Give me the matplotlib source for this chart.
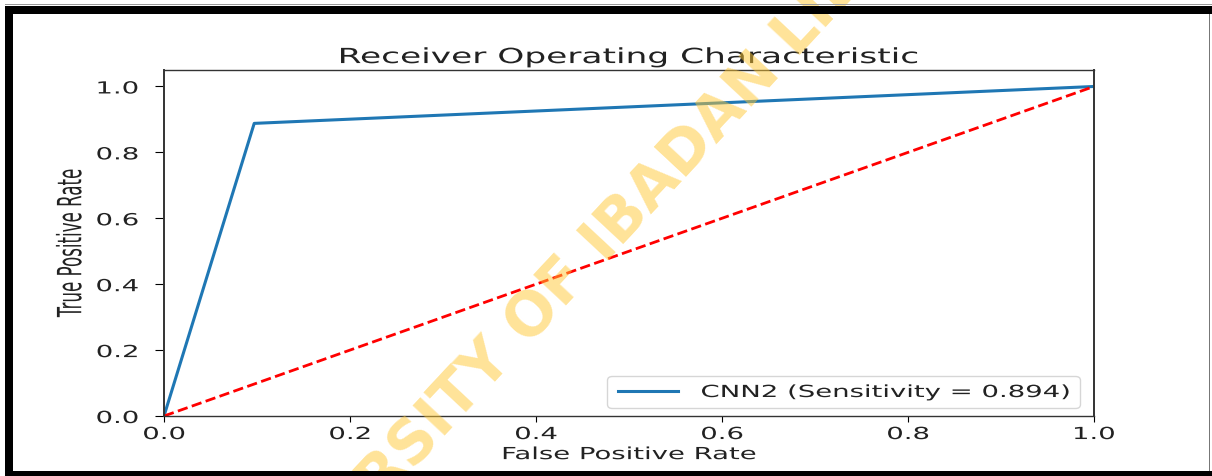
import numpy as np
import matplotlib
matplotlib.use('Agg')
import matplotlib.pyplot as plt
from matplotlib.patches import Rectangle
from matplotlib.path import Path
from matplotlib.patheffects import AbstractPathEffect
from matplotlib.transforms import Affine2D

# ── data ───────────────────────────────────────────────────────────────
FPR = [0.0, 0.097, 1.0]
TPR = [0.0, 0.888, 1.0]
CHANCE = [0.0, 1.0]
ROC_LABEL = 'CNN2 (Sensitivity = 0.894)'
TICKS = [0.0, 0.2, 0.4, 0.6, 0.8, 1.0]
WATERMARK = 'UNIVERSITY OF IBADAN LIBRARY'

W, H, DPI = 1212, 477, 100
SX = 1.65      # the source screenshot was widened, so glyphs are drawn wider


class Widen(AbstractPathEffect):
    """Stretch a drawn path along screen x about an anchor (text stays text)."""
    def __init__(self, sx, where='center', x0=None):
        super().__init__()
        self.sx, self.where, self.x0 = sx, where, x0

    def draw_path(self, renderer, gc, tpath, affine, rgbFace=None):
        if self.x0 is not None:
            cx = self.x0.x1
        else:
            v = tpath.vertices
            if tpath.codes is not None:
                v = v[tpath.codes != Path.CLOSEPOLY]
            xmin, xmax = v[:, 0].min(), v[:, 0].max()
            lx = {'left': xmin, 'center': (xmin + xmax) / 2, 'right': xmax}[self.where]
            ly = (v[:, 1].min() + v[:, 1].max()) / 2
            cx = affine.transform_point((lx, ly))[0]
        stretch = Affine2D().translate(-cx, 0).scale(self.sx, 1).translate(cx, 0)
        renderer.draw_path(gc, tpath, affine + stretch, rgbFace)


plt.rcParams['font.size'] = 12

fig = plt.figure(figsize=(W / DPI, H / DPI), dpi=DPI)
ax = fig.add_axes([164 / W, 1 - 417 / H, 930 / W, 346 / H])

ax.plot(FPR, TPR, color='#1f77b4', lw=2.2, label=ROC_LABEL)
ax.plot(CHANCE, CHANCE, color='red', ls='--', lw=2)

ax.set_xlim(0, 1)
ax.set_ylim(0, 1.05)
ax.set_xticks(TICKS)
ax.set_yticks(TICKS)
ax.tick_params(axis='x', length=4, pad=2.5)
ax.tick_params(axis='y', length=6.5, pad=12)
for side in ['left', 'right']:
    ax.spines[side].set_linewidth(1.4)
for side in ['top', 'bottom']:
    ax.spines[side].set_linewidth(1.0)
for side in ax.spines:
    ax.spines[side].set_color('#333333')

plt.setp(ax.get_xticklabels(), path_effects=[Widen(SX, 'center')], color='#222222')
plt.setp(ax.get_yticklabels(), path_effects=[Widen(SX, 'right')], color='#222222')

ax.set_title('Receiver Operating Characteristic', fontsize=15, pad=5, color='#222222',
             path_effects=[Widen(SX, 'center')])
ax.set_xlabel('False Positive Rate', labelpad=1.5, color='#222222',
              path_effects=[Widen(SX, 'center')])
ax.set_ylabel('True Positive Rate', color='#222222', path_effects=[Widen(2.0, 'center')])
ax.yaxis.set_label_coords(-0.0914, 0.5)

leg = ax.legend(loc='lower right', handlelength=2.2)
wide = [Widen(SX, x0=ax.bbox)]
leg.get_frame().set_path_effects(wide)
for t in leg.get_texts():
    t.set_path_effects(wide)
    t.set_color('#222222')
for ln in leg.get_lines():
    ln.set_path_effects(wide)

# library watermark across the page (cut by the page edges, as in the scan)
fig.text(603 / W, 1 - 242 / H, WATERMARK, rotation=47, rotation_mode='anchor',
         ha='center', va='center', fontsize=43, fontweight='bold',
         color=(1.0, 0.78, 0.2), alpha=0.5, zorder=5)

# screenshot frame
def band(x0, y0, x1, y1, color):
    fig.add_artist(Rectangle((x0 / W, 1 - y1 / H), (x1 - x0) / W, (y1 - y0) / H,
                             transform=fig.transFigure, color=color, lw=0, zorder=10))

band(5, 5, W, 6, '#999999')
band(5, 7, W, 15, 'black')
band(5, 7, 13, H, 'black')
band(5, 472, W, H, 'black')
band(1208.5, 15, 1210, 472, '#777777')

fig.savefig('out.png', dpi=DPI)
